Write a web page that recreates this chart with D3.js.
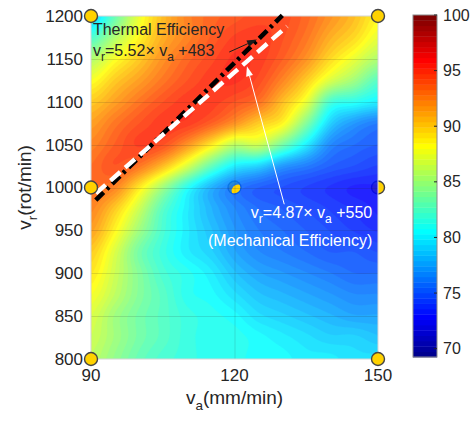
<!DOCTYPE html>
<html>
<head>
<meta charset="utf-8">
<script src="https://cdn.jsdelivr.net/npm/d3@7"></script>
<style>
  body { margin: 0; background: #fff; }
  svg { display: block; }
  text { font-family: Arial, "Liberation Sans", Helvetica, sans-serif; }
</style>
</head>
<body>
<svg id="chart" width="475" height="423"></svg>
<script>
// Traverse speed v_a (mm/min) and rotation speed v_r (rot/min) grid
const vaValues = [90, 95, 100, 105, 110, 115, 120, 125, 130, 135, 140, 145, 150];
const vrValues = [1200, 1175, 1150, 1125, 1100, 1075, 1050, 1025, 1000, 975, 950, 925, 900, 875, 850, 825, 800];

// Efficiency (%) at each grid node, one row per v_r (top to bottom), one column per v_a
const efficiency = [
  [78.5, 83.0, 87.5, 90.5, 92.5, 93.5, 94.0, 94.5, 94.5, 93.5, 92.0, 90.5, 88.5],
  [82.0, 85.5, 88.5, 91.0, 92.5, 93.8, 94.8, 95.0, 94.3, 93.0, 91.0, 89.5, 87.5],
  [85.5, 88.0, 90.0, 92.0, 93.5, 94.5, 95.3, 95.0, 93.8, 92.0, 89.5, 87.5, 85.5],
  [88.0, 90.0, 91.5, 93.0, 94.2, 95.0, 95.3, 94.5, 92.5, 90.0, 87.0, 85.0, 82.5],
  [90.0, 91.5, 93.0, 94.2, 95.0, 95.0, 94.2, 93.2, 90.5, 87.5, 82.0, 81.0, 80.0],
  [91.5, 93.0, 94.2, 95.0, 95.0, 93.8, 92.0, 90.0, 88.5, 84.0, 79.0, 77.0, 76.0],
  [92.5, 93.8, 94.8, 94.3, 92.0, 89.0, 86.0, 86.5, 83.5, 80.0, 76.5, 75.5, 75.0],
  [93.3, 94.2, 93.0, 90.5, 87.0, 83.0, 80.0, 79.0, 77.0, 76.0, 75.0, 74.5, 74.0],
  [93.3, 92.5, 89.0, 85.0, 81.0, 78.0, 76.0, 75.0, 74.5, 74.0, 73.5, 73.0, 73.0],
  [92.5, 90.0, 86.5, 82.5, 80.0, 78.0, 76.5, 75.5, 75.0, 74.5, 74.0, 73.5, 73.0],
  [91.5, 88.5, 85.0, 82.0, 80.0, 78.5, 77.0, 76.0, 75.5, 75.0, 74.5, 74.0, 73.5],
  [90.0, 87.0, 83.5, 81.5, 80.0, 79.0, 77.5, 76.5, 76.0, 75.5, 75.0, 75.0, 74.5],
  [89.0, 86.5, 84.0, 82.0, 81.0, 80.0, 78.5, 77.5, 77.0, 76.5, 76.0, 75.5, 75.5],
  [88.0, 86.0, 84.0, 82.5, 81.0, 80.5, 79.5, 78.5, 78.0, 77.5, 77.0, 76.5, 76.5],
  [87.0, 85.0, 83.5, 82.5, 81.5, 81.0, 80.5, 79.5, 79.0, 78.5, 78.0, 77.5, 77.5],
  [86.5, 85.0, 83.5, 82.5, 81.5, 81.0, 81.0, 80.5, 80.0, 79.5, 79.0, 79.0, 78.5],
  [86.0, 84.5, 83.0, 82.0, 81.5, 81.0, 81.0, 80.5, 80.5, 80.0, 80.0, 79.5, 79.5]
];

// Experimental design points
const designVa = [90, 150, 90, 120, 150, 90, 150];
const designVr = [1200, 1200, 1000, 1000, 1000, 800, 800];
const designBelowSurface = [false, false, false, true, true, false, false];

// Fitted optimum lines: [slope, intercept, va start, va end]
const thermalLine = [5.52, 483, 91, 130];
const mechanicalLine = [4.87, 550, 91, 131];

// Axis ticks and colour limits
const xTicks = [90, 120, 150];
const yTicks = [800, 850, 900, 950, 1000, 1050, 1100, 1150, 1200];
const colorTicks = [70, 75, 80, 85, 90, 95, 100];
const colorLimits = [69.25, 100];
const colorLevels = 64;

// ---------- layout ----------
const svg = d3.select("#chart");
const x = d3.scaleLinear([90, 150], [91, 378]);
const y = d3.scaleLinear([800, 1200], [359, 16]);
const cbar = d3.scaleLinear(colorLimits, [357, 15]);
const cbX = 413, cbW = 24;
const textColor = "#262626";

// MATLAB-style jet colormap
function jet(m) {
  const n = Math.ceil(m / 4);
  const u = [];
  for (let i = 1; i <= n; i++) u.push(i / n);
  for (let i = 0; i < n - 1; i++) u.push(1);
  for (let i = n; i >= 1; i--) u.push(i / n);
  const g0 = Math.ceil(n / 2) - (m % 4 === 1 ? 1 : 0);
  const J = Array.from({ length: m }, () => [0, 0, 0]);
  u.forEach((v, k) => {
    const g = g0 + k + 1, r = g + n, b = g - n;
    if (r >= 1 && r <= m) J[r - 1][0] = v;
    if (g >= 1 && g <= m) J[g - 1][1] = v;
    if (b >= 1 && b <= m) J[b - 1][2] = v;
  });
  return J.map(c => d3.rgb(c[0] * 255, c[1] * 255, c[2] * 255).formatHex());
}
const cmap = jet(colorLevels);
const step = (colorLimits[1] - colorLimits[0]) / colorLevels;

// Smooth surface between grid nodes (Catmull-Rom in both directions)
function cr(p0, p1, p2, p3, t) {
  return 0.5 * ((2 * p1) + (-p0 + p2) * t + (2 * p0 - 5 * p1 + 4 * p2 - p3) * t * t + (-p0 + 3 * p1 - 3 * p2 + p3) * t * t * t);
}
const nCol = vaValues.length, nRow = vrValues.length;
function node(r, c) {
  r = Math.max(0, Math.min(nRow - 1, r));
  c = Math.max(0, Math.min(nCol - 1, c));
  return efficiency[r][c];
}
function surfaceAt(va, vr) {
  const fc = (va - vaValues[0]) / (vaValues[1] - vaValues[0]);
  const fr = (vrValues[0] - vr) / (vrValues[0] - vrValues[1]);
  const c = Math.min(nCol - 2, Math.floor(fc)), r = Math.min(nRow - 2, Math.floor(fr));
  const tc = fc - c, tr = fr - r;
  const rows = [-1, 0, 1, 2].map(dr => cr(node(r + dr, c - 1), node(r + dr, c), node(r + dr, c + 1), node(r + dr, c + 2), tc));
  return cr(rows[0], rows[1], rows[2], rows[3], tr);
}

const nx = 150, ny = 176;
const vaMin = vaValues[0], vaMax = vaValues[nCol - 1];
const vrMax = vrValues[0], vrMin = vrValues[nRow - 1];
const field = new Float64Array(nx * ny);
for (let j = 0; j < ny; j++) {
  for (let i = 0; i < nx; i++) {
    const va = vaMin + (i + 0.5) * (vaMax - vaMin) / nx;
    const vr = vrMax - (j + 0.5) * (vrMax - vrMin) / ny;
    field[j * nx + i] = surfaceAt(va, vr);
  }
}
const thresholds = d3.range(colorLevels).map(i => colorLimits[0] + i * step);
const bands = d3.contours().size([nx, ny]).thresholds(thresholds)(field);
const gridPath = d3.geoPath(d3.geoTransform({
  point(px, py) {
    this.stream.point(x(vaMin + px * (vaMax - vaMin) / nx), y(vrMax - py * (vrMax - vrMin) / ny));
  }
}));

svg.append("defs").append("clipPath").attr("id", "plotClip")
  .append("rect").attr("x", x(90)).attr("y", y(1200))
  .attr("width", x(150) - x(90)).attr("height", y(800) - y(1200));

// Design points that sit underneath the surface
const pts = designVa.map((va, i) => ({ va, vr: designVr[i], below: designBelowSurface[i] }));
const ptR = 6.5;
function drawPoints(sel) {
  sel.append("circle")
    .attr("cx", d => x(d.va)).attr("cy", d => y(d.vr)).attr("r", ptR)
    .attr("fill", "#ffd200").attr("stroke", "#454545").attr("stroke-width", 1.4);
}
drawPoints(svg.append("g").selectAll("g").data(pts.filter(d => d.below)).join("g"));

// Filled contour surface
const surf = svg.append("g").attr("opacity", 0.86).attr("clip-path", "url(#plotClip)");
surf.selectAll("path").data(bands).join("path")
  .attr("d", gridPath)
  .attr("fill", (d, i) => cmap[i])
  .attr("stroke", (d, i) => cmap[i]).attr("stroke-width", 0.3);

// Yellow sliver of the centre point poking through the surface
const centre = pts.find(d => d.below && d.va > 90 && d.va < 150);
if (centre) {
  const cx = x(centre.va), cy = y(centre.vr);
  svg.select("defs").append("clipPath").attr("id", "lensClip")
    .append("circle").attr("cx", cx + 3.6).attr("cy", cy + 3.6).attr("r", ptR);
  svg.append("circle").attr("cx", cx).attr("cy", cy).attr("r", ptR - 0.7)
    .attr("fill", "#ffd200").attr("clip-path", "url(#lensClip)");
}

// Grid lines
const grid = svg.append("g").attr("stroke", textColor).attr("stroke-opacity", 0.15).attr("stroke-width", 1);
grid.selectAll(".gx").data(xTicks.slice(1, -1)).join("line")
  .attr("x1", d => x(d) + 0.5).attr("x2", d => x(d) + 0.5).attr("y1", y(1200)).attr("y2", y(800));
grid.selectAll(".gy").data(yTicks.slice(1, -1)).join("line")
  .attr("y1", d => Math.round(y(d)) + 0.5).attr("y2", d => Math.round(y(d)) + 0.5).attr("x1", x(90)).attr("x2", x(150));

// Axes frame
svg.append("rect").attr("x", x(90)).attr("y", y(1200))
  .attr("width", x(150) - x(90)).attr("height", y(800) - y(1200))
  .attr("fill", "none").attr("stroke", "#d6d6d6").attr("stroke-width", 1);

// Optimum lines
function lineData(L) {
  return [L[2], L[3]].map(va => [va, L[0] * va + L[1]]);
}
const lineGen = d3.line().x(d => x(d[0])).y(d => y(d[1]));
const lines = svg.append("g");
lines.append("path").attr("d", lineGen(lineData(thermalLine)))
  .attr("fill", "none").attr("stroke", "#000").attr("stroke-width", 4.6)
  .attr("stroke-dasharray", "11,4.5,3,4.5");
lines.append("path").attr("d", lineGen(lineData(mechanicalLine)))
  .attr("fill", "none").attr("stroke", "#fff").attr("stroke-width", 4.4)
  .attr("stroke-dasharray", "13,6.5");

// Design points drawn above the surface
drawPoints(svg.append("g").selectAll("g").data(pts.filter(d => !d.below)).join("g"));

// Axis tick labels
const tl = svg.append("g").attr("fill", textColor).attr("font-size", 17);
tl.selectAll(".xt").data(xTicks).join("text")
  .attr("x", d => x(d)).attr("y", 381).attr("text-anchor", "middle").text(d => d);
tl.selectAll(".yt").data(yTicks).join("text")
  .attr("x", 83).attr("y", d => y(d)).attr("dy", "0.35em").attr("text-anchor", "end").text(d => d);

// Axis titles with subscripts
function subText(sel, parts, subSize, shift) {
  let prevSub = false;
  parts.forEach(([s, sub]) => {
    const t = sel.append("tspan").text(s);
    if (sub && !prevSub) t.attr("dy", shift).attr("font-size", subSize);
    else if (!sub && prevSub) t.attr("dy", -shift);
    else if (sub) t.attr("font-size", subSize);
    prevSub = sub;
  });
}
const xl = svg.append("text").attr("x", (x(90) + x(150)) / 2).attr("y", 404)
  .attr("text-anchor", "middle").attr("font-size", 19).attr("fill", textColor);
subText(xl, [["v", false], ["a", true], ["(mm/min)", false]], 13.5, 6);
const yl = svg.append("text").attr("transform", `translate(31,${(y(800) + y(1200)) / 2}) rotate(-90)`)
  .attr("text-anchor", "middle").attr("font-size", 19).attr("fill", textColor);
subText(yl, [["v", false], ["r", true], ["(rot/min)", false]], 13.5, 6);

// Colour bar
const cb = svg.append("g");
cb.selectAll("rect").data(cmap).join("rect")
  .attr("x", cbX).attr("width", cbW)
  .attr("y", (d, i) => cbar(colorLimits[0] + (i + 1) * step))
  .attr("height", (d, i) => cbar(colorLimits[0] + i * step) - cbar(colorLimits[0] + (i + 1) * step) + 0.4)
  .attr("fill", d => d);
cb.append("rect").attr("x", cbX).attr("y", cbar(colorLimits[1])).attr("width", cbW)
  .attr("height", cbar(colorLimits[0]) - cbar(colorLimits[1]))
  .attr("fill", "none").attr("stroke", "#8a8a8a").attr("stroke-width", 1);
cb.selectAll(".ct").data(colorTicks).join("line")
  .attr("x1", cbX + cbW - 3).attr("x2", cbX + cbW)
  .attr("y1", d => cbar(d)).attr("y2", d => cbar(d))
  .attr("stroke", textColor).attr("stroke-width", 1);
cb.selectAll("text").data(colorTicks).join("text")
  .attr("x", 443).attr("y", d => cbar(d)).attr("dy", "0.35em")
  .attr("font-size", 16).attr("fill", textColor).text(d => d);

// Annotations
function arrow(g, from, to, color, headLen, headW) {
  const x1 = x(from[0]), y1 = y(from[1]), x2 = x(to[0]), y2 = y(to[1]);
  const ang = Math.atan2(y2 - y1, x2 - x1);
  const bx = x2 - headLen * Math.cos(ang), by = y2 - headLen * Math.sin(ang);
  g.append("line").attr("x1", x1).attr("y1", y1).attr("x2", bx).attr("y2", by)
    .attr("stroke", color).attr("stroke-width", 1);
  const nxv = -Math.sin(ang) * headW / 2, nyv = Math.cos(ang) * headW / 2;
  g.append("path").attr("d", `M${x2},${y2}L${bx + nxv},${by + nyv}L${bx - nxv},${by - nyv}Z`).attr("fill", color);
}
const ann = svg.append("g");
ann.append("text").attr("x", x(90.4)).attr("y", y(1177.8)).attr("font-size", 16)
  .attr("fill", textColor).text("Thermal Efficiency");
const th = ann.append("text").attr("x", x(90.4)).attr("y", y(1153.4)).attr("font-size", 16).attr("fill", textColor);
subText(th, [["v", false], ["r", true], ["=5.52\u00d7 v", false], ["a", true], [" +483", false]], 12, 5);
arrow(ann, [118.9, 1158], [124.7, 1172.5], "#1a1a1a", 10, 7);

const me = ann.append("text").attr("x", x(148.8)).attr("y", y(964.4)).attr("font-size", 16)
  .attr("text-anchor", "end").attr("fill", "#fff");
subText(me, [["v", false], ["r", true], ["=4.87\u00d7 v", false], ["a", true], [" +550", false]], 12, 5);
ann.append("text").attr("x", x(148.8)).attr("y", y(931.8)).attr("font-size", 16)
  .attr("text-anchor", "end").attr("fill", "#fff").text("(Mechanical Efficiency)");
arrow(ann, [130.4, 980.5], [122.6, 1141.5], "#fff", 10, 7);
</script>
</body>
</html>
